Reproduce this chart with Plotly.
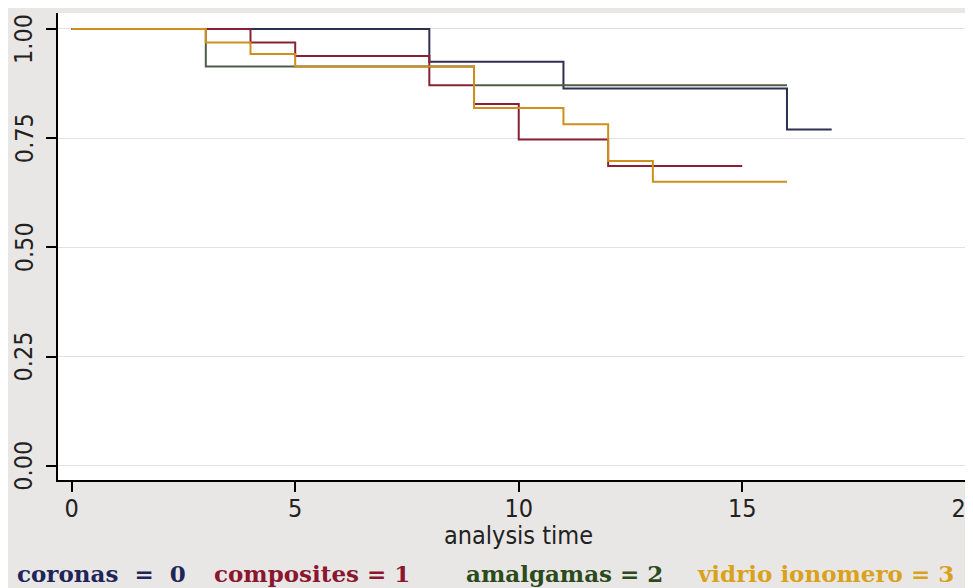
import plotly.graph_objects as go

# Kaplan-Meier step data
coronas_t = [0, 8, 11, 16, 17]
coronas_s = [1.0, 0.925, 0.864, 0.770, 0.770]

composites_t = [0, 4, 5, 8, 9, 10, 12, 15]
composites_s = [1.0, 0.969, 0.938, 0.871, 0.828, 0.747, 0.686, 0.686]

amalgamas_t = [0, 3, 9, 16]
amalgamas_s = [1.0, 0.914, 0.871, 0.871]

vidrio_t = [0, 3, 4, 5, 9, 11, 12, 13, 16]
vidrio_s = [1.0, 0.969, 0.943, 0.914, 0.819, 0.782, 0.698, 0.650, 0.650]

x_ticks = [0, 5, 10, 15, 20]
y_ticks = [0, 0.25, 0.5, 0.75, 1.0]
y_labels = ["0.00", "0.25", "0.50", "0.75", "1.00"]

legend_labels = ["coronas&nbsp; = &nbsp;0", "composites = 1", "amalgamas = 2", "vidrio ionomero = 3"]
legend_colors = ["#1f2558", "#8a1630", "#2c4a1c", "#d9a21c"]
line_colors = ["#2d3050", "#8b2035", "#4f5c48", "#cf8f1c"]

series = [
    (coronas_t, coronas_s),
    (composites_t, composites_s),
    (amalgamas_t, amalgamas_s),
    (vidrio_t, vidrio_s),
]

W, H = 973, 588
OFF = 8  # page body margin
L, R, T, B = 50, 0, 5, 116
PW, PH = W - L - R, H - T - B


def px(page_x):
    return (page_x - OFF - L) / PW


def py(page_y):
    return (H - B - (page_y - OFF)) / PH


fig = go.Figure()
for (t, s), c in zip(series, line_colors):
    fig.add_trace(go.Scatter(x=t, y=s, mode="lines", line=dict(color=c, width=2, shape="hv"),
                             showlegend=False))

narrow = "Liberation Sans Narrow, DejaVu Sans Condensed, Arial Narrow, sans-serif"
tick_font = dict(family=narrow, size=25, color="#222222")

fig.update_layout(
    width=W, height=H,
    margin=dict(l=L, r=R, t=T, b=B),
    paper_bgcolor="#e9e7e5",
    plot_bgcolor="white",
    xaxis=dict(range=[-0.306, 20.34], tickvals=x_ticks, ticks="outside", ticklen=10,
               tickcolor="black", tickwidth=1.5, showgrid=False, zeroline=False,
               showline=True, linecolor="black", linewidth=2, tickfont=tick_font,
               automargin=False, ticklabelstandoff=-5),
    yaxis=dict(range=[-0.0327, 1.0366], tickvals=y_ticks, ticks="outside",
               ticklen=10, tickcolor="black", tickwidth=1.5, showgrid=True,
               gridcolor="#e2e2e2", gridwidth=1, zeroline=False, showline=True,
               linecolor="black", linewidth=2, showticklabels=False, automargin=False),
)

# y tick labels (rotated, as in the reference; the top one sits a little lower)
for v, lab in zip(y_ticks, y_labels):
    fig.add_annotation(x=px(24), y=v, xref="paper", yref="y", xanchor="center", yanchor="middle",
                       text=lab, textangle=-90, showarrow=False, font=tick_font,
                       yshift=-10 if v == 1.0 else 0)

fig.add_annotation(x=px(518), y=py(535), xref="paper", yref="paper", xanchor="center",
                   yanchor="middle", text="analysis time", showarrow=False,
                   font=dict(family=narrow, size=25, color="#222222"))

legend_x = [15, 212, 464, 695]
for lx, txt, col in zip(legend_x, legend_labels, legend_colors):
    fig.add_annotation(x=px(lx), y=py(573), xref="paper", yref="paper", xanchor="left",
                       yanchor="middle", text="<b>" + txt + "</b>", showarrow=False,
                       font=dict(family="DejaVu Serif, Liberation Serif, serif", size=23, color=col))

fig.write_html("out.html")
